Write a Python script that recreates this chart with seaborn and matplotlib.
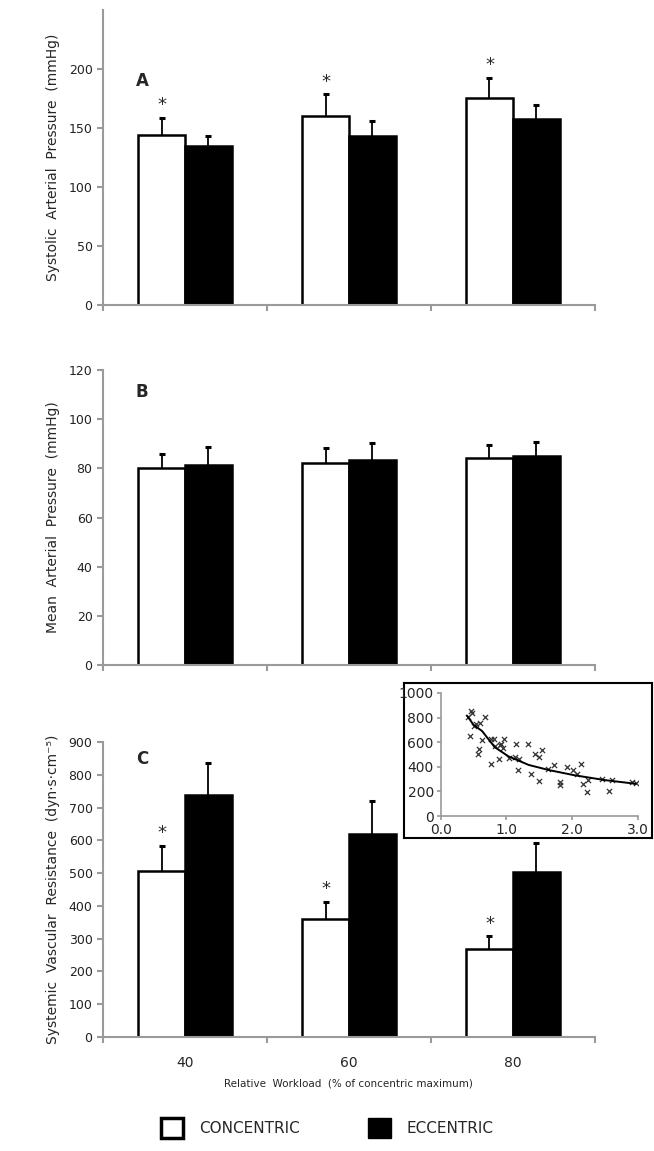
import pandas as pd
import numpy as np
import matplotlib.pyplot as plt
import seaborn as sns
from matplotlib.patches import Patch

# data
workloads = ["40", "60", "80"]
modes = ["CONCENTRIC", "ECCENTRIC"]

sap_conc = [144, 160, 175.5]
sap_conc_err = [14.5, 18.5, 17]
sap_ecc = [135, 143.5, 157.5]
sap_ecc_err = [8, 12.5, 12]

map_conc = [80, 82.2, 84.1]
map_conc_err = [6, 6, 5.4]
map_ecc = [81.5, 83.5, 85]
map_ecc_err = [7.4, 6.8, 5.9]

svr_conc = [508, 360, 270]
svr_conc_err = [75, 52, 37]
svr_ecc = [737, 621, 504]
svr_ecc_err = [99, 100, 87]

# inset: SVR vs relative workload ratio
inset_x = [0.41, 0.46, 0.48, 0.44, 0.50, 0.54, 0.59, 0.67, 0.58, 0.56, 0.63, 0.76, 0.81,
           0.76, 0.83, 0.90, 0.88, 0.92, 0.96, 0.95, 1.04, 1.14, 1.13, 1.19, 1.17, 1.33,
           1.37, 1.44, 1.49, 1.54, 1.50, 1.63, 1.72, 1.81, 1.81, 1.92, 2.02, 2.08, 2.14,
           2.17, 2.23, 2.25, 2.45, 2.56, 2.61, 2.91, 2.98]
inset_y = [803, 849, 836, 649, 731, 748, 759, 808, 548, 507, 616, 622, 627,
           425, 567, 575, 466, 589, 627, 556, 474, 589, 479, 463, 370, 589,
           342, 507, 479, 534, 288, 384, 411, 274, 255, 397, 370, 342, 425,
           260, 192, 293, 301, 205, 293, 274, 266]
fit_x = [0.40, 0.50, 0.63, 0.82, 1.03, 1.34, 1.66, 2.03, 2.50, 2.97]
fit_y = [815, 740, 690, 560, 485, 415, 372, 332, 292, 262]

sns.set_style("ticks")
plt.rcParams['font.family'] = ['DejaVu Sans']
spine_col = '#9a9a9a'

fig = plt.figure(figsize=(6.54, 11.51), dpi=100)


def panel(rect, conc, conc_err, ecc, ecc_err, ymax, yticks, ylabel, letter, letter_y, stars):
    ax = fig.add_axes(rect)
    df = pd.DataFrame({
        'workload': workloads * 2,
        'mode': [modes[0]] * 3 + [modes[1]] * 3,
        'value': conc + ecc,
    })
    sns.barplot(data=df, x='workload', y='value', hue='mode', order=workloads,
                hue_order=modes, palette={modes[0]: 'white', modes[1]: 'black'},
                width=0.57, gap=0, errorbar=None, edgecolor='black', linewidth=1.8,
                legend=False, ax=ax)
    errs = [conc_err, ecc_err]
    for cont, err in zip(ax.containers, errs):
        xc = [p.get_x() + p.get_width() / 2 for p in cont.patches]
        hh = [p.get_height() for p in cont.patches]
        eb = ax.errorbar(xc, hh, yerr=[np.zeros(3), err], fmt='none', ecolor='black',
                         elinewidth=1.3, capsize=2.5, capthick=2.2, zorder=1)
        # only the upper half of the error bar is shown
        eb[1][0].set_visible(False)
    if stars:
        cont = ax.containers[0]
        for p, e in zip(cont.patches, conc_err):
            ax.text(p.get_x() + p.get_width() / 2, p.get_height() + e + ymax * 0.012, '*',
                    ha='center', va='bottom', fontsize=13)
    ax.set_xlim(-0.5, 2.5)
    ax.set_ylim(0, ymax)
    ax.set_yticks(yticks)
    ax.set_xticks([-0.5, 0.5, 1.5, 2.5])
    ax.set_xticklabels([])
    ax.set_xlabel('')
    ax.set_ylabel(ylabel, fontsize=10, labelpad=6)
    for s in ['top', 'right']:
        ax.spines[s].set_visible(False)
    for s in ['left', 'bottom']:
        ax.spines[s].set_color(spine_col)
        ax.spines[s].set_linewidth(1.5)
    ax.tick_params(axis='both', color=spine_col, width=1.5, length=4, labelsize=9,
                   labelcolor='#222222')
    ax.text(-0.3, letter_y, letter, fontsize=12, fontweight='bold', ha='left', va='center')
    return ax


panel([0.1575, 0.735, 0.752, 0.2563], sap_conc, sap_conc_err, sap_ecc, sap_ecc_err,
      250, [0, 50, 100, 150, 200], 'Systolic  Arterial  Pressure  (mmHg)', 'A', 190, True)
panel([0.1575, 0.4222, 0.752, 0.2563], map_conc, map_conc_err, map_ecc, map_ecc_err,
      120, [0, 20, 40, 60, 80, 100, 120], 'Mean  Arterial  Pressure  (mmHg)', 'B', 111, False)
axc = panel([0.1575, 0.099, 0.752, 0.2563], svr_conc, svr_conc_err, svr_ecc, svr_ecc_err,
            900, list(range(0, 1000, 100)), 'Systemic  Vascular  Resistance  (dyn\u00b7s\u00b7cm\u207b\u2075)',
            'C', 848, True)
axc.set_xticks([0, 1, 2], minor=True)
axc.set_xticklabels(workloads, minor=True, fontsize=10)
axc.tick_params(axis='x', which='minor', length=0, pad=14)
axc.set_xlabel('Relative  Workload  (% of concentric maximum)', fontsize=7.5, labelpad=6)

# inset
frame = fig.add_axes([0.618, 0.272, 0.379, 0.1347])
frame.set_xticks([])
frame.set_yticks([])
for s in frame.spines.values():
    s.set_color('black')
    s.set_linewidth(1.5)
ins = fig.add_axes([0.674, 0.291, 0.301, 0.107])
ins.set_facecolor('none')
sns.scatterplot(x=inset_x, y=inset_y, marker='x', s=14, color='#333333', linewidth=0.9, ax=ins)
sns.lineplot(x=fit_x, y=fit_y, color='black', linewidth=1.4, ax=ins)
ins.set_xlim(0, 3)
ins.set_ylim(0, 1000)
ins.set_xticks([0, 1, 2, 3])
ins.set_xticklabels(['0.0', '1.0', '2.0', '3.0'])
ins.set_yticks([0, 200, 400, 600, 800, 1000])
for s in ['top', 'right']:
    ins.spines[s].set_visible(False)
for s in ['left', 'bottom']:
    ins.spines[s].set_color(spine_col)
    ins.spines[s].set_linewidth(1.2)
ins.tick_params(color=spine_col, width=1.2, length=3, labelsize=10, pad=2)

# legend
handles = [Patch(facecolor='white', edgecolor='black', linewidth=2.5, label=modes[0]),
           Patch(facecolor='black', edgecolor='black', label=modes[1])]
fig.legend(handles=handles, loc='center', bbox_to_anchor=(0.5, 0.02), ncol=2,
           frameon=False, fontsize=11, handlelength=1.5, handleheight=1.7,
           columnspacing=4.5, handletextpad=1.0)

fig.savefig('out.png', dpi=100)
